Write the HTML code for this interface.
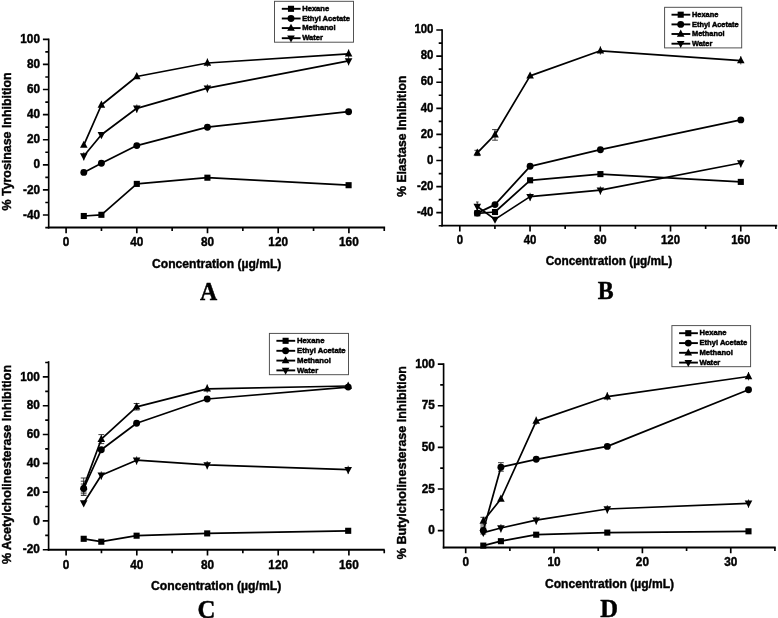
<!DOCTYPE html>
<html lang="en">
<head>
<meta charset="utf-8">
<title>Enzyme inhibition of solvent extracts (A-D)</title>
<style>
html,body{margin:0;padding:0;background:#fff;overflow:hidden;}
svg{display:block;}
.axis{fill:none;stroke:#000;stroke-width:1.7;stroke-linecap:butt;stroke-linejoin:miter;}
.tick{fill:none;stroke:#000;stroke-width:1.65;}
.tl{font:bold 11.8px "Liberation Sans", Arial, Helvetica, sans-serif;fill:#000;stroke:#000;stroke-width:0.4px;}
.ti{font:bold 12px "Liberation Sans", Arial, Helvetica, sans-serif;fill:#000;stroke:#000;stroke-width:0.4px;}
.pl{font:bold 23.5px "Liberation Serif", "Times New Roman", Times, serif;fill:#000;stroke:#000;stroke-width:0.45px;}
.s{fill:#000;}
.s polyline,.s .ln{fill:none;stroke:#000;stroke-width:1.72;stroke-linejoin:round;}
.lg .ln{stroke-width:1.9;}
.lg text{font:bold 7.6px "Liberation Sans", Arial, Helvetica, sans-serif;fill:#000;stroke:#000;stroke-width:0.45px;}
.lb{fill:#fff;stroke:#4a4a4a;stroke-width:0.95;}
.eb path{fill:none;stroke:#262626;stroke-width:0.9;}
</style>
</head>
<body>
<svg width="778" height="618" viewBox="0 0 778 618">
<defs><filter id="soft" x="0" y="0" width="778" height="618" filterUnits="userSpaceOnUse"><feGaussianBlur stdDeviation="0.42"/></filter></defs>
<rect x="0" y="0" width="778" height="618" fill="#ffffff"/>
<g filter="url(#soft)">
<g class="chart">
<path class="axis" style="stroke-width:1.65" d="M48.7 38.57V228.45"/>
<path class="axis" style="stroke-width:1.9" d="M47.88 227.5H385.12"/>
<path class="tick" d="M48.7 215h-5.8M48.7 189.9h-5.8M48.7 164.8h-5.8M48.7 139.7h-5.8M48.7 114.6h-5.8M48.7 89.5h-5.8M48.7 64.4h-5.8M48.7 39.3h-5.8M48.7 227.55h-3.4M48.7 202.45h-3.4M48.7 177.35h-3.4M48.7 152.25h-3.4M48.7 127.15h-3.4M48.7 102.05h-3.4M48.7 76.95h-3.4M48.7 51.85h-3.4M66.1 227.5v5.8M136.8 227.5v5.8M207.5 227.5v5.8M278.2 227.5v5.8M348.9 227.5v5.8M101.45 227.5v3.4M172.15 227.5v3.4M242.85 227.5v3.4M313.55 227.5v3.4M384.25 227.5v3.4"/>
<g class="tl" text-anchor="end">
<text transform="translate(40 218.65) scale(1 1.13)">-40</text>
<text transform="translate(40 193.55) scale(1 1.13)">-20</text>
<text transform="translate(40 168.45) scale(1 1.13)">0</text>
<text transform="translate(40 143.35) scale(1 1.13)">20</text>
<text transform="translate(40 118.25) scale(1 1.13)">40</text>
<text transform="translate(40 93.15) scale(1 1.13)">60</text>
<text transform="translate(40 68.05) scale(1 1.13)">80</text>
<text transform="translate(40 42.95) scale(1 1.13)">100</text>
</g>
<g class="tl" text-anchor="middle">
<text transform="translate(66.1 246.3) scale(1 1.13)">0</text>
<text transform="translate(136.8 246.3) scale(1 1.13)">40</text>
<text transform="translate(207.5 246.3) scale(1 1.13)">80</text>
<text transform="translate(278.2 246.3) scale(1 1.13)">120</text>
<text transform="translate(348.9 246.3) scale(1 1.13)">160</text>
</g>
<text class="ti" text-anchor="middle" style="font-size:12.12px" transform="translate(216.7 267.8)">Concentration (µg/mL)</text>
<text class="ti" text-anchor="middle" style="font-size:12.4px" transform="translate(10.9 141.4) rotate(-90)">% Tyrosinase Inhibition</text>
<g class="eb">
<path d="M207.4 58.5V66.8M207.4 58.5H207.4M207.4 66.8H207.4"/>
<path d="M207.4 84.3V92.6M207.4 84.3H207.4M207.4 92.6H207.4"/>
<path d="M348.6 49.4V65.4M348.6 49.4H348.6M348.6 65.4H348.6"/>
<path d="M136.8 104.5V112.8M136.8 104.5H136.8M136.8 112.8H136.8"/>
<path d="M83.8 152.2V160.5M83.8 152.2H83.8M83.8 160.5H83.8"/>
</g>
<g class="s">
<polyline points="83.8,216 101.4,214.8 136.8,183.9 207.4,177.7 348.6,185.2"/>
<rect x="80.75" y="212.95" width="6.1" height="6.1"/>
<rect x="98.35" y="211.75" width="6.1" height="6.1"/>
<rect x="133.75" y="180.85" width="6.1" height="6.1"/>
<rect x="204.35" y="174.65" width="6.1" height="6.1"/>
<rect x="345.55" y="182.15" width="6.1" height="6.1"/>
</g>
<g class="s">
<polyline points="83.8,172.4 101.4,163.3 136.8,145.6 207.4,127.2 348.6,111.7"/>
<circle cx="83.8" cy="172.4" r="3.45"/>
<circle cx="101.4" cy="163.3" r="3.45"/>
<circle cx="136.8" cy="145.6" r="3.45"/>
<circle cx="207.4" cy="127.2" r="3.45"/>
<circle cx="348.6" cy="111.7" r="3.45"/>
</g>
<g class="s">
<polyline points="83.8,145.1 101.4,105 136.8,76.5 207.4,63 348.6,53.8"/>
<path d="M83.8 140.7L87.6 147.8L80 147.8Z"/>
<path d="M101.4 100.6L105.2 107.7L97.6 107.7Z"/>
<path d="M136.8 72.1L140.6 79.2L133 79.2Z"/>
<path d="M207.4 58.6L211.2 65.7L203.6 65.7Z"/>
<path d="M348.6 49.4L352.4 56.5L344.8 56.5Z"/>
</g>
<g class="s">
<polyline points="83.8,156 101.4,134.8 136.8,108.3 207.4,88.1 348.6,60.9"/>
<path d="M83.8 160.4L87.6 153.3L80 153.3Z"/>
<path d="M101.4 139.2L105.2 132.1L97.6 132.1Z"/>
<path d="M136.8 112.7L140.6 105.6L133 105.6Z"/>
<path d="M207.4 92.5L211.2 85.4L203.6 85.4Z"/>
<path d="M348.6 65.3L352.4 58.2L344.8 58.2Z"/>
</g>
<rect class="lb" x="274.5" y="1.3" width="79" height="40.9"/>
<g class="s lg">
<path class="ln" d="M281.8 8.8H300.6"/>
<rect x="287.95" y="5.75" width="6.1" height="6.1"/>
<text transform="translate(302.2 11.05) scale(1 1.05)">Hexane</text>
<path class="ln" d="M281.8 18.5H300.6"/>
<circle cx="291" cy="18.5" r="3.45"/>
<text transform="translate(302.2 20.75) scale(1 1.05)">Ethyl Acetate</text>
<path class="ln" d="M281.8 28.1H300.6"/>
<path d="M291 23.7L294.8 30.8L287.2 30.8Z"/>
<text transform="translate(302.2 30.35) scale(1 1.05)">Methanol</text>
<path class="ln" d="M281.8 38.2H300.6"/>
<path d="M291 42.6L294.8 35.5L287.2 35.5Z"/>
<text transform="translate(302.2 40.45) scale(1 1.05)">Water</text>
</g>
<text class="pl" text-anchor="middle" style="font-size:23.8px" transform="translate(208.5 300.3) scale(1 1.08)">A</text>
</g>
<g class="chart">
<path class="axis" style="stroke-width:1.65" d="M442.1 29.18V226.55"/>
<path class="axis" style="stroke-width:1.9" d="M441.28 225.6H777.23"/>
<path class="tick" d="M442.1 212.68h-5.8M442.1 186.59h-5.8M442.1 160.5h-5.8M442.1 134.41h-5.8M442.1 108.32h-5.8M442.1 82.22h-5.8M442.1 56.13h-5.8M442.1 30.04h-5.8M442.1 225.73h-3.4M442.1 199.64h-3.4M442.1 173.55h-3.4M442.1 147.45h-3.4M442.1 121.36h-3.4M442.1 95.27h-3.4M442.1 69.18h-3.4M442.1 43.09h-3.4M459.8 225.6v5.8M530.04 225.6v5.8M600.28 225.6v5.8M670.52 225.6v5.8M740.76 225.6v5.8M494.92 225.6v3.4M565.16 225.6v3.4M635.4 225.6v3.4M705.64 225.6v3.4M775.88 225.6v3.4"/>
<g class="tl" text-anchor="end">
<text style="font-size:11.4px" transform="translate(433.4 215.93) scale(1 1.13)">-40</text>
<text style="font-size:11.4px" transform="translate(433.4 189.84) scale(1 1.13)">-20</text>
<text style="font-size:11.4px" transform="translate(433.4 163.75) scale(1 1.13)">0</text>
<text style="font-size:11.4px" transform="translate(433.4 137.66) scale(1 1.13)">20</text>
<text style="font-size:11.4px" transform="translate(433.4 111.57) scale(1 1.13)">40</text>
<text style="font-size:11.4px" transform="translate(433.4 85.47) scale(1 1.13)">60</text>
<text style="font-size:11.4px" transform="translate(433.4 59.38) scale(1 1.13)">80</text>
<text style="font-size:11.4px" transform="translate(433.4 33.29) scale(1 1.13)">100</text>
</g>
<g class="tl" text-anchor="middle">
<text style="font-size:11.4px" transform="translate(459.8 244.4) scale(1 1.13)">0</text>
<text style="font-size:11.4px" transform="translate(530.04 244.4) scale(1 1.13)">40</text>
<text style="font-size:11.4px" transform="translate(600.28 244.4) scale(1 1.13)">80</text>
<text style="font-size:11.4px" transform="translate(670.52 244.4) scale(1 1.13)">120</text>
<text style="font-size:11.4px" transform="translate(740.76 244.4) scale(1 1.13)">160</text>
</g>
<text class="ti" text-anchor="middle" style="font-size:11.85px" transform="translate(608.95 264.5)">Concentration (µg/mL)</text>
<text class="ti" text-anchor="middle" style="font-size:12.1px" transform="translate(405.6 136.2) rotate(-90)">% Elastase Inhibition</text>
<g class="eb">
<path d="M477.3 150.3V155.6M474.4 150.3H480.2M474.4 155.6H480.2"/>
<path d="M495 129.6V140.2M492.1 129.6H497.9M492.1 140.2H497.9"/>
<path d="M477.3 202V210.4M476 202H478.6M476 210.4H478.6"/>
<path d="M530.1 192.8V201.1M530.1 192.8H530.1M530.1 201.1H530.1"/>
<path d="M600.4 186.4V194.7M600.4 186.4H600.4M600.4 194.7H600.4"/>
<path d="M600.4 46.3V54.6M600.4 46.3H600.4M600.4 54.6H600.4"/>
<path d="M740.8 56.1V64.4M740.8 56.1H740.8M740.8 64.4H740.8"/>
<path d="M740.8 159.2V167.5M740.8 159.2H740.8M740.8 167.5H740.8"/>
</g>
<g class="s">
<polyline points="477.3,213.3 495,212 530.1,180.3 600.4,174.1 740.8,181.9"/>
<rect x="474.25" y="210.25" width="6.1" height="6.1"/>
<rect x="491.95" y="208.95" width="6.1" height="6.1"/>
<rect x="527.05" y="177.25" width="6.1" height="6.1"/>
<rect x="597.35" y="171.05" width="6.1" height="6.1"/>
<rect x="737.75" y="178.85" width="6.1" height="6.1"/>
</g>
<g class="s">
<polyline points="477.3,213.1 495,204.6 530.1,166.3 600.4,149.7 740.8,119.9"/>
<circle cx="477.3" cy="213.1" r="3.45"/>
<circle cx="495" cy="204.6" r="3.45"/>
<circle cx="530.1" cy="166.3" r="3.45"/>
<circle cx="600.4" cy="149.7" r="3.45"/>
<circle cx="740.8" cy="119.9" r="3.45"/>
</g>
<g class="s">
<polyline points="477.3,152.8 495,134.7 530.1,75.9 600.4,50.8 740.8,60.6"/>
<path d="M477.3 148.4L481.1 155.5L473.5 155.5Z"/>
<path d="M495 130.3L498.8 137.4L491.2 137.4Z"/>
<path d="M530.1 71.5L533.9 78.6L526.3 78.6Z"/>
<path d="M600.4 46.4L604.2 53.5L596.6 53.5Z"/>
<path d="M740.8 56.2L744.6 63.3L737 63.3Z"/>
</g>
<g class="s">
<polyline points="477.3,206.5 495,219.4 530.1,196.6 600.4,190.2 740.8,163"/>
<path d="M477.3 210.9L481.1 203.8L473.5 203.8Z"/>
<path d="M495 223.8L498.8 216.7L491.2 216.7Z"/>
<path d="M530.1 201L533.9 193.9L526.3 193.9Z"/>
<path d="M600.4 194.6L604.2 187.5L596.6 187.5Z"/>
<path d="M740.8 167.4L744.6 160.3L737 160.3Z"/>
</g>
<rect class="lb" x="664.6" y="7.3" width="77.1" height="40.6"/>
<g class="s lg">
<path class="ln" d="M671.5 14.7H690.3"/>
<rect x="677.65" y="11.65" width="6.1" height="6.1"/>
<text style="font-size:7.42px" transform="translate(692 16.95) scale(1 1.05)">Hexane</text>
<path class="ln" d="M671.5 24.4H690.3"/>
<circle cx="680.7" cy="24.4" r="3.45"/>
<text style="font-size:7.42px" transform="translate(692 26.65) scale(1 1.05)">Ethyl Acetate</text>
<path class="ln" d="M671.5 34H690.3"/>
<path d="M680.7 29.6L684.5 36.7L676.9 36.7Z"/>
<text style="font-size:7.42px" transform="translate(692 36.25) scale(1 1.05)">Methanol</text>
<path class="ln" d="M671.5 43.7H690.3"/>
<path d="M680.7 48.1L684.5 41L676.9 41Z"/>
<text style="font-size:7.42px" transform="translate(692 45.95) scale(1 1.05)">Water</text>
</g>
<text class="pl" text-anchor="middle" style="font-size:23.8px" transform="translate(605.8 299.3) scale(1 1.08)">B</text>
</g>
<g class="chart">
<path class="axis" style="stroke-width:1.65" d="M48.6 361.18V550.75"/>
<path class="axis" style="stroke-width:1.9" d="M47.77 549.8H384.72"/>
<path class="tick" d="M48.6 549.7h-5.8M48.6 520.9h-5.8M48.6 492.1h-5.8M48.6 463.3h-5.8M48.6 434.5h-5.8M48.6 405.7h-5.8M48.6 376.9h-5.8M48.6 535.3h-3.4M48.6 506.5h-3.4M48.6 477.7h-3.4M48.6 448.9h-3.4M48.6 420.1h-3.4M48.6 391.3h-3.4M48.6 362.5h-3.4M66.1 549.8v5.8M136.8 549.8v5.8M207.5 549.8v5.8M278.2 549.8v5.8M348.9 549.8v5.8M101.45 549.8v3.4M172.15 549.8v3.4M242.85 549.8v3.4M313.55 549.8v3.4M384.25 549.8v3.4"/>
<g class="tl" text-anchor="end">
<text transform="translate(39.9 553.35) scale(1 1.13)">-20</text>
<text transform="translate(39.9 524.55) scale(1 1.13)">0</text>
<text transform="translate(39.9 495.75) scale(1 1.13)">20</text>
<text transform="translate(39.9 466.95) scale(1 1.13)">40</text>
<text transform="translate(39.9 438.15) scale(1 1.13)">60</text>
<text transform="translate(39.9 409.35) scale(1 1.13)">80</text>
<text transform="translate(39.9 380.55) scale(1 1.13)">100</text>
</g>
<g class="tl" text-anchor="middle">
<text transform="translate(66.1 568.6) scale(1 1.13)">0</text>
<text transform="translate(136.8 568.6) scale(1 1.13)">40</text>
<text transform="translate(207.5 568.6) scale(1 1.13)">80</text>
<text transform="translate(278.2 568.6) scale(1 1.13)">120</text>
<text transform="translate(348.9 568.6) scale(1 1.13)">160</text>
</g>
<text class="ti" text-anchor="middle" style="font-size:12.2px" transform="translate(216.15 590.4)">Concentration (µg/mL)</text>
<text class="ti" text-anchor="middle" style="font-size:12.53px" transform="translate(10.9 464.5) rotate(-90)">% Acetylcholinesterase Inhibition</text>
<g class="eb">
<path d="M83.7 478V495.5M80.8 478H86.6M80.8 495.5H86.6"/>
<path d="M101.3 434.6V443.6M98.4 434.6H104.2M98.4 443.6H104.2"/>
<path d="M136.6 403.5V410M133.7 403.5H139.5M133.7 410H139.5"/>
<path d="M83.7 481.2V493.8M80.8 481.2H86.6M80.8 493.8H86.6"/>
<path d="M83.7 484V492M80.8 484H86.6M80.8 492H86.6"/>
<path d="M101.3 471.4V479.7M101.3 471.4H101.3M101.3 479.7H101.3"/>
<path d="M136.6 456.4V464.7M136.6 456.4H136.6M136.6 464.7H136.6"/>
<path d="M207.2 461.1V469.4M207.2 461.1H207.2M207.2 469.4H207.2"/>
<path d="M348.2 465.8V474.1M348.2 465.8H348.2M348.2 474.1H348.2"/>
<path d="M207.2 384.4V392.7M207.2 384.4H207.2M207.2 392.7H207.2"/>
</g>
<g class="s">
<polyline points="83.7,538.8 101.3,541.7 136.6,535.7 207.2,533.4 348.2,530.8"/>
<rect x="80.65" y="535.75" width="6.1" height="6.1"/>
<rect x="98.25" y="538.65" width="6.1" height="6.1"/>
<rect x="133.55" y="532.65" width="6.1" height="6.1"/>
<rect x="204.15" y="530.35" width="6.1" height="6.1"/>
<rect x="345.15" y="527.75" width="6.1" height="6.1"/>
</g>
<g class="s">
<polyline points="83.7,488.5 101.3,449.8 136.6,423.2 207.2,399 348.2,387.1"/>
<circle cx="83.7" cy="488.5" r="3.45"/>
<circle cx="101.3" cy="449.8" r="3.45"/>
<circle cx="136.6" cy="423.2" r="3.45"/>
<circle cx="207.2" cy="399" r="3.45"/>
<circle cx="348.2" cy="387.1" r="3.45"/>
</g>
<g class="s">
<polyline points="83.7,486.9 101.3,439.2 136.6,406.8 207.2,388.9 348.2,386"/>
<path d="M83.7 482.5L87.5 489.6L79.9 489.6Z"/>
<path d="M101.3 434.8L105.1 441.9L97.5 441.9Z"/>
<path d="M136.6 402.4L140.4 409.5L132.8 409.5Z"/>
<path d="M207.2 384.5L211 391.6L203.4 391.6Z"/>
<path d="M348.2 381.6L352 388.7L344.4 388.7Z"/>
</g>
<g class="s">
<polyline points="83.7,503 101.3,475.2 136.6,460.2 207.2,464.9 348.2,469.6"/>
<path d="M83.7 507.4L87.5 500.3L79.9 500.3Z"/>
<path d="M101.3 479.6L105.1 472.5L97.5 472.5Z"/>
<path d="M136.6 464.6L140.4 457.5L132.8 457.5Z"/>
<path d="M207.2 469.3L211 462.2L203.4 462.2Z"/>
<path d="M348.2 474L352 466.9L344.4 466.9Z"/>
</g>
<rect class="lb" x="269.4" y="333.4" width="79.1" height="41.3"/>
<g class="s lg">
<path class="ln" d="M276.4 340.8H295.2"/>
<rect x="282.55" y="337.75" width="6.1" height="6.1"/>
<text style="font-size:7.72px" transform="translate(297 343.05) scale(1 1.05)">Hexane</text>
<path class="ln" d="M276.4 350.8H295.2"/>
<circle cx="285.6" cy="350.8" r="3.45"/>
<text style="font-size:7.72px" transform="translate(297 353.05) scale(1 1.05)">Ethyl Acetate</text>
<path class="ln" d="M276.4 360.6H295.2"/>
<path d="M285.6 356.2L289.4 363.3L281.8 363.3Z"/>
<text style="font-size:7.72px" transform="translate(297 362.85) scale(1 1.05)">Methanol</text>
<path class="ln" d="M276.4 370.4H295.2"/>
<path d="M285.6 374.8L289.4 367.7L281.8 367.7Z"/>
<text style="font-size:7.72px" transform="translate(297 372.65) scale(1 1.05)">Water</text>
</g>
<text class="pl" text-anchor="middle" style="font-size:24.8px" transform="translate(206.4 618) scale(1 1.05)">C</text>
</g>
<g class="chart">
<path class="axis" style="stroke-width:1.65" d="M443.6 363.28V548.45"/>
<path class="axis" style="stroke-width:1.9" d="M442.78 547.5H775.73"/>
<path class="tick" d="M443.6 530.6h-5.8M443.6 488.98h-5.8M443.6 447.35h-5.8M443.6 405.73h-5.8M443.6 364.1h-5.8M443.6 509.79h-3.4M443.6 468.16h-3.4M443.6 426.54h-3.4M443.6 384.91h-3.4M465.7 547.5v5.8M554.05 547.5v5.8M642.4 547.5v5.8M730.75 547.5v5.8M509.88 547.5v3.4M598.23 547.5v3.4M686.58 547.5v3.4M774.92 547.5v3.4"/>
<g class="tl" text-anchor="end">
<text transform="translate(434.9 534.25) scale(1 1.13)">0</text>
<text transform="translate(434.9 492.62) scale(1 1.13)">25</text>
<text transform="translate(434.9 451) scale(1 1.13)">50</text>
<text transform="translate(434.9 409.38) scale(1 1.13)">75</text>
<text transform="translate(434.9 367.75) scale(1 1.13)">100</text>
</g>
<g class="tl" text-anchor="middle">
<text transform="translate(465.7 566.3) scale(1 1.13)">0</text>
<text transform="translate(554.05 566.3) scale(1 1.13)">10</text>
<text transform="translate(642.4 566.3) scale(1 1.13)">20</text>
<text transform="translate(730.75 566.3) scale(1 1.13)">30</text>
</g>
<text class="ti" text-anchor="middle" style="font-size:12.08px" transform="translate(609.55 587.6)">Concentration (µg/mL)</text>
<text class="ti" text-anchor="middle" style="font-size:12.5px" transform="translate(406 462.6) rotate(-90)">% Butylcholinesterase Inhibition</text>
<g class="eb">
<path d="M483.3 517.3V525M480.4 517.3H486.2M480.4 525H486.2"/>
<path d="M500.9 462.7V471.2M498 462.7H503.8M498 471.2H503.8"/>
<path d="M483.3 527V534M480.4 527H486.2M480.4 534H486.2"/>
<path d="M536.2 516.4V524.7M536.2 516.4H536.2M536.2 524.7H536.2"/>
<path d="M500.9 524.2V532.5M500.9 524.2H500.9M500.9 532.5H500.9"/>
<path d="M607.3 505.2V513.5M607.3 505.2H607.3M607.3 513.5H607.3"/>
<path d="M748.5 499.5V507.8M748.5 499.5H748.5M748.5 507.8H748.5"/>
<path d="M536.2 416.6V424.9M536.2 416.6H536.2M536.2 424.9H536.2"/>
<path d="M607.3 392.2V400.5M607.3 392.2H607.3M607.3 400.5H607.3"/>
<path d="M748.5 372V380.3M748.5 372H748.5M748.5 380.3H748.5"/>
</g>
<g class="s">
<polyline points="483.3,545.6 500.9,541.2 536.2,534.7 607.3,532.6 748.5,531.3"/>
<rect x="480.25" y="542.55" width="6.1" height="6.1"/>
<rect x="497.85" y="538.15" width="6.1" height="6.1"/>
<rect x="533.15" y="531.65" width="6.1" height="6.1"/>
<rect x="604.25" y="529.55" width="6.1" height="6.1"/>
<rect x="745.45" y="528.25" width="6.1" height="6.1"/>
</g>
<g class="s">
<polyline points="483.3,530.5 500.9,467.2 536.2,459.3 607.3,446.4 748.5,389.7"/>
<circle cx="483.3" cy="530.5" r="3.45"/>
<circle cx="500.9" cy="467.2" r="3.45"/>
<circle cx="536.2" cy="459.3" r="3.45"/>
<circle cx="607.3" cy="446.4" r="3.45"/>
<circle cx="748.5" cy="389.7" r="3.45"/>
</g>
<g class="s">
<polyline points="483.3,521 500.9,499 536.2,421.1 607.3,396.7 748.5,376.5"/>
<path d="M483.3 516.6L487.1 523.7L479.5 523.7Z"/>
<path d="M500.9 494.6L504.7 501.7L497.1 501.7Z"/>
<path d="M536.2 416.7L540 423.8L532.4 423.8Z"/>
<path d="M607.3 392.3L611.1 399.4L603.5 399.4Z"/>
<path d="M748.5 372.1L752.3 379.2L744.7 379.2Z"/>
</g>
<g class="s">
<polyline points="483.3,532.6 500.9,528 536.2,520.2 607.3,509 748.5,503.3"/>
<path d="M483.3 537L487.1 529.9L479.5 529.9Z"/>
<path d="M500.9 532.4L504.7 525.3L497.1 525.3Z"/>
<path d="M536.2 524.6L540 517.5L532.4 517.5Z"/>
<path d="M607.3 513.4L611.1 506.3L603.5 506.3Z"/>
<path d="M748.5 507.7L752.3 500.6L744.7 500.6Z"/>
</g>
<rect class="lb" x="671.9" y="325.6" width="78.7" height="41.1"/>
<g class="s lg">
<path class="ln" d="M679.1 333.2H697.9"/>
<rect x="685.25" y="330.15" width="6.1" height="6.1"/>
<text transform="translate(699.5 335.45) scale(1 1.05)">Hexane</text>
<path class="ln" d="M679.1 343.1H697.9"/>
<circle cx="688.3" cy="343.1" r="3.45"/>
<text transform="translate(699.5 345.35) scale(1 1.05)">Ethyl Acetate</text>
<path class="ln" d="M679.1 352.8H697.9"/>
<path d="M688.3 348.4L692.1 355.5L684.5 355.5Z"/>
<text transform="translate(699.5 355.05) scale(1 1.05)">Methanol</text>
<path class="ln" d="M679.1 362.6H697.9"/>
<path d="M688.3 367L692.1 359.9L684.5 359.9Z"/>
<text transform="translate(699.5 364.85) scale(1 1.05)">Water</text>
</g>
<text class="pl" text-anchor="middle" style="font-size:24.6px" transform="translate(609.1 617.4) scale(1 1.03)">D</text>
</g>
</g>
</svg>
</body>
</html>
